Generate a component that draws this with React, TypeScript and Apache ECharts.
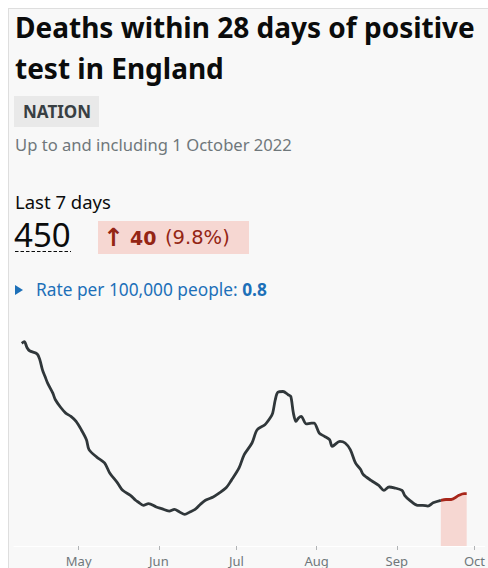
import React, { useEffect, useRef } from "react";
import * as echarts from "echarts";

// ---- Data ----
const axisStart = "2022-04-06";
const axisEnd = "2022-10-05";
const highlightFrom = "2022-09-18";
const monthNames = ["Jan", "Feb", "Mar", "Apr", "May", "Jun", "Jul", "Aug", "Sep", "Oct", "Nov", "Dec"];

const pointDates = [
  "2022-04-09", "2022-04-10", "2022-04-11", "2022-04-12", "2022-04-15", "2022-04-16", "2022-04-17", "2022-04-18",
  "2022-04-19", "2022-04-21", "2022-04-22", "2022-04-24", "2022-04-26", "2022-04-28", "2022-04-30", "2022-05-02",
  "2022-05-04", "2022-05-05", "2022-05-08", "2022-05-11", "2022-05-13", "2022-05-16", "2022-05-18", "2022-05-21",
  "2022-05-23", "2022-05-24", "2022-05-26", "2022-05-28", "2022-05-31", "2022-06-02", "2022-06-05", "2022-06-07",
  "2022-06-09", "2022-06-11", "2022-06-13", "2022-06-15", "2022-06-17", "2022-06-19", "2022-06-22", "2022-06-24",
  "2022-06-27", "2022-06-29", "2022-07-02", "2022-07-04", "2022-07-07", "2022-07-09", "2022-07-12", "2022-07-14",
  "2022-07-15", "2022-07-16", "2022-07-17", "2022-07-19", "2022-07-21", "2022-07-22", "2022-07-23", "2022-07-24",
  "2022-07-25", "2022-07-26", "2022-07-28", "2022-07-30", "2022-07-31", "2022-08-02", "2022-08-04", "2022-08-06",
  "2022-08-07", "2022-08-10", "2022-08-12", "2022-08-14", "2022-08-16", "2022-08-18", "2022-08-19", "2022-08-22",
  "2022-08-25", "2022-08-27", "2022-08-29", "2022-08-31", "2022-09-03", "2022-09-04", "2022-09-06", "2022-09-09",
  "2022-09-11", "2022-09-13", "2022-09-15", "2022-09-18", "2022-09-20", "2022-09-22", "2022-09-25", "2022-09-27",
  "2022-09-28",
];

const deaths = [
  244, 246, 239, 235, 231, 224, 212, 204,
  196, 184, 176, 167, 160, 156, 150, 140,
  128, 116, 107, 100, 88, 76, 67, 61,
  55, 53, 49, 51, 47, 45, 42, 44,
  41, 38, 41, 44, 50, 55, 59, 63,
  70, 79, 94, 110, 124, 140, 146, 154,
  160, 176, 185, 186, 182, 180, 160, 150,
  154, 156, 147, 148, 148, 136, 132, 128,
  120, 126, 124, 116, 100, 92, 86, 79,
  73, 67, 71, 70, 67, 61, 55, 49,
  49, 48, 52, 55, 56, 56, 61, 63,
  63,
];

const FONT = "'Noto Sans', 'DejaVu Sans', sans-serif";
const BADGE_FONT = "'DejaVu Sans', 'Noto Sans', sans-serif";

function buildCategories(): string[] {
  const out: string[] = [];
  const s = Date.parse(axisStart + "T00:00:00Z");
  const e = Date.parse(axisEnd + "T00:00:00Z");
  for (let t = s; t <= e; t += 86400000) out.push(new Date(t).toISOString().slice(0, 10));
  return out;
}

export default function App() {
  const ref = useRef<HTMLDivElement>(null);

  useEffect(() => {
    if (!ref.current) return;
    const chart = echarts.init(ref.current, null, { renderer: "svg" });

    const categories = buildCategories();
    const byDate = new Map<string, number>();
    pointDates.forEach((d, i) => byDate.set(d, deaths[i]));
    const mainData = categories.map((c) => (c <= highlightFrom && byDate.has(c) ? byDate.get(c)! : null));
    const recentData = categories.map((c) => (c >= highlightFrom && byDate.has(c) ? byDate.get(c)! : null));
    const isMonthStart = (_i: number, v: string) => String(v).endsWith("-01");

    chart.setOption({
      animation: false,
      backgroundColor: "#f8f8f8",
      grid: { left: 14, right: 0, top: 330, bottom: 22 },
      xAxis: {
        type: "category",
        data: categories,
        boundaryGap: false,
        axisLine: { show: true, lineStyle: { color: "#ffffff", width: 1 } },
        axisTick: { show: true, interval: isMonthStart, length: 4, lineStyle: { color: "#b1b4b6" } },
        axisLabel: {
          interval: isMonthStart,
          formatter: (v: string) => monthNames[parseInt(v.slice(5, 7), 10) - 1],
          color: "#6f777b",
          fontSize: 13,
          fontFamily: FONT,
          margin: 8,
        },
        splitLine: { show: false },
      },
      yAxis: { type: "value", min: 0, max: 260, show: false, splitLine: { show: false } },
      series: [
        {
          type: "line",
          data: mainData,
          connectNulls: true,
          showSymbol: false,
          smooth: 0.3,
          lineStyle: { color: "#30373a", width: 2.8 },
          z: 3,
        },
        {
          type: "line",
          data: recentData,
          connectNulls: true,
          showSymbol: false,
          smooth: 0.3,
          lineStyle: { color: "#a8261a", width: 2.8 },
          areaStyle: { color: "#f6d7d2", opacity: 1 },
          z: 2,
        },
      ],
      graphic: [
        { type: "rect", shape: { x: 0, y: 0, width: 488, height: 8 }, style: { fill: "#ffffff" }, silent: true },
        { type: "rect", shape: { x: 0, y: 0, width: 8, height: 568 }, style: { fill: "#ffffff" }, silent: true },
        { type: "line", shape: { x1: 8.5, y1: 8, x2: 8.5, y2: 568 }, style: { stroke: "#dedede", lineWidth: 1 }, silent: true },
        { type: "line", shape: { x1: 8, y1: 8.5, x2: 488, y2: 8.5 }, style: { stroke: "#dedede", lineWidth: 1 }, silent: true },
        {
          type: "text", x: 15, y: 27,
          style: { text: "Deaths within 28 days of positive", fill: "#0b0c0c", fontSize: 28, fontWeight: "bold", fontFamily: FONT, verticalAlign: "middle" },
        },
        {
          type: "text", x: 15, y: 68,
          style: { text: "test in England", fill: "#0b0c0c", fontSize: 28, fontWeight: "bold", fontFamily: FONT, verticalAlign: "middle" },
        },
        { type: "rect", shape: { x: 14, y: 96, width: 85, height: 31 }, style: { fill: "#e9e9e9" } },
        {
          type: "text", x: 23, y: 111.5,
          style: { text: "NATION", fill: "#383f43", fontSize: 17, fontWeight: "bold", fontFamily: FONT, verticalAlign: "middle" },
        },
        {
          type: "text", x: 15, y: 144,
          style: { text: "Up to and including 1 October 2022", fill: "#6f777b", fontSize: 16.6, fontFamily: FONT, verticalAlign: "middle" },
        },
        {
          type: "text", x: 15, y: 201,
          style: { text: "Last 7 days", fill: "#0b0c0c", fontSize: 18.5, fontFamily: FONT, verticalAlign: "middle" },
        },
        {
          type: "text", x: 14, y: 234,
          style: { text: "450", fill: "#0b0c0c", fontSize: 33, fontFamily: FONT, verticalAlign: "middle" },
        },
        { type: "line", shape: { x1: 15, y1: 251.5, x2: 71, y2: 251.5 }, style: { stroke: "#0b0c0c", lineWidth: 1, lineDash: [3.5, 2] } },
        { type: "rect", shape: { x: 98, y: 221, width: 151, height: 33 }, style: { fill: "#f6d7d2" } },
        {
          type: "text", x: 103, y: 237,
          style: { text: "↑", fill: "#942514", fontSize: 25, fontWeight: "bold", fontFamily: BADGE_FONT, verticalAlign: "middle" },
        },
        {
          type: "text", x: 130, y: 237.5,
          style: { text: "40", fill: "#942514", fontSize: 19, fontWeight: "bold", fontFamily: BADGE_FONT, verticalAlign: "middle" },
        },
        {
          type: "text", x: 165, y: 237.5,
          style: { text: "(9.8%)", fill: "#942514", fontSize: 19.5, fontFamily: BADGE_FONT, verticalAlign: "middle" },
        },
        { type: "polygon", shape: { points: [[15, 285], [23, 290], [15, 295]] }, style: { fill: "#1d70b8" } },
        {
          type: "text", x: 36, y: 289,
          style: {
            text: "{a|Rate per 100,000 people: }{b|0.8}",
            verticalAlign: "middle",
            rich: {
              a: { fill: "#1d70b8", fontSize: 17.3, fontFamily: FONT },
              b: { fill: "#1d70b8", fontSize: 17.3, fontWeight: "bold", fontFamily: FONT },
            },
            fill: "#1d70b8", fontSize: 17.3, fontFamily: FONT,
          },
        },
      ],
    });

    return () => chart.dispose();
  }, []);

  return (
    <div style={{ position: "fixed", left: 0, top: 0, width: 488, height: 568, overflow: "hidden" }}>
      <div ref={ref} style={{ width: 488, height: 568 }} />
    </div>
  );
}
